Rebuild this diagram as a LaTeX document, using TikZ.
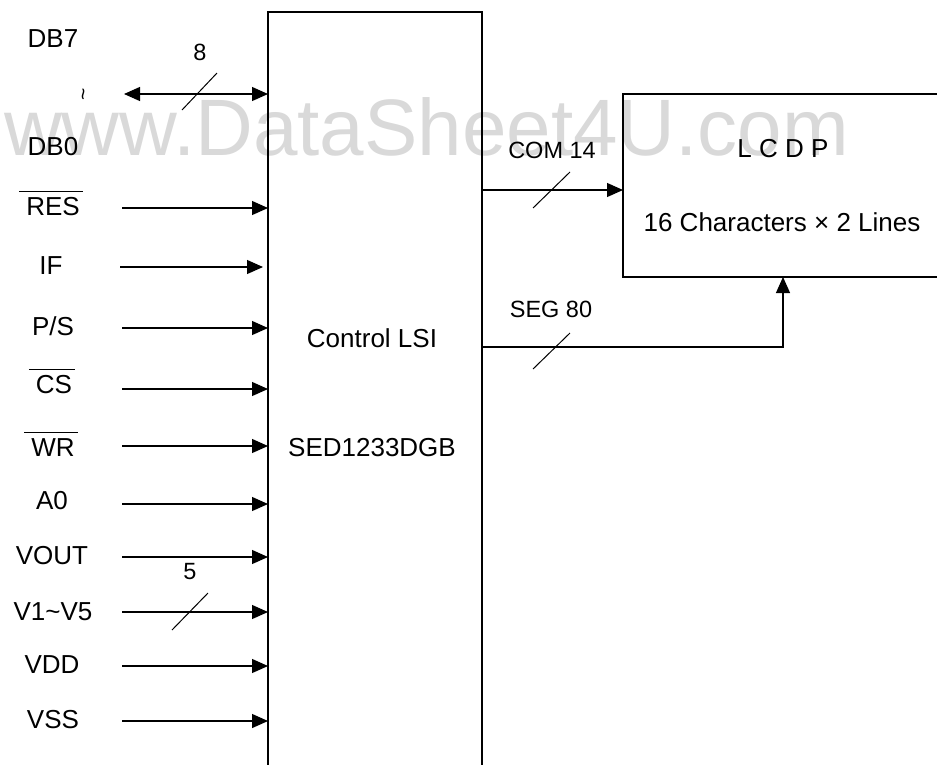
\documentclass[tikz,border=0pt]{standalone}
\usepackage{fontspec}
\setmainfont{Liberation Sans}
\usetikzlibrary{arrows.meta}
\newcommand\ovlbar[1]{\vbox{\hrule height 1.2pt\kern 5pt\hbox{\kern 7pt #1\kern 3pt}}}
\tikzset{
  lbl/.style={font=\fontsize{26}{30}\selectfont, anchor=base, inner sep=0pt},
  smlbl/.style={font=\fontsize{23.5}{28}\selectfont, anchor=base, inner sep=0pt},
  blockbox/.style={draw, line width=2.2pt, rectangle, inner sep=0pt, outer sep=0pt, anchor=north west},
  conn/.style={line width=1.2pt, -{Triangle[length=16pt,width=14pt]}},
  biconn/.style={line width=1.2pt, {Triangle[length=16pt,width=14pt]}-{Triangle[length=16pt,width=14pt]}},
  busslash/.style={line width=1pt},
  wmark/.style={font=\fontsize{80}{90}\selectfont, text=black!15, anchor=base west, inner sep=0pt}
}
\begin{document}
\begin{tikzpicture}[x=1pt,y=-1pt]
\useasboundingbox (0,0) rectangle (937,764);
\clip (0,0) rectangle (937,764);
% watermark
\node[wmark] (wm) at (4,155) {www.DataSheet4U.com};
% blocks
\node[blockbox, minimum width=214pt, minimum height=780pt] (lsi) at (268,12) {};
\node[blockbox, minimum width=340pt, minimum height=183pt] (lcd) at (623,94) {};
\node[lbl] (ctl) at (372,347) {Control LSI};
\node[lbl] (sed) at (372,456) {SED1233DGB};
\node[lbl] (lcdp) at (783,157) {L C D P};
\node[lbl] (chars) at (782,231) {16 Characters × 2 Lines};
% left labels
\node[lbl] (db7) at (53,47) {DB7};
\node[lbl] (db0) at (53,155) {DB0};
\node[font=\fontsize{21}{21}\selectfont, rotate=90, inner sep=0pt] (til) at (86,94) {\textasciitilde};
\node[lbl] (res) at (51,215) {\ovlbar{RES}};
\node[lbl] (if) at (51,274) {IF};
\node[lbl] (ps) at (53,335) {P/S};
\node[lbl] (cs) at (52,393) {\ovlbar{CS}};
\node[lbl] (wr) at (51,456) {\ovlbar{WR}};
\node[lbl] (a0) at (52,509) {A0};
\node[lbl] (vout) at (52,564) {VOUT};
\node[lbl] (v15) at (53,620) {V1\textasciitilde V5};
\node[lbl] (vdd) at (52,673) {VDD};
\node[lbl] (vss) at (53,728) {VSS};
\node[smlbl] (n8) at (200,60) {8};
\node[smlbl] (n5) at (190,579) {5};
\node[smlbl] (com) at (552,158) {COM 14};
\node[smlbl] (seg) at (551,317) {SEG 80};
% arrow starts
\coordinate (sdb) at (124,94);
\coordinate (sres) at (122,208);
\coordinate (sif) at (120,267);
\coordinate (eif) at (263,267);
\coordinate (sps) at (122,328);
\coordinate (scs) at (122,389);
\coordinate (swr) at (122,446);
\coordinate (sa0) at (122,504);
\coordinate (svout) at (122,557);
\coordinate (sv15) at (122,612);
\coordinate (svdd) at (122,666);
\coordinate (svss) at (122,721);
\coordinate (scom) at (482,190);
\coordinate (sseg) at (482,347);
\coordinate (segturn) at (783,347);
% connectors
\draw[biconn] (sdb) -- (sdb -| lsi.west);
\draw[conn] (sres) -- (sres -| lsi.west);
\draw[conn] (sif) -- (eif);
\draw[conn] (sps) -- (sps -| lsi.west);
\draw[conn] (scs) -- (scs -| lsi.west);
\draw[conn] (swr) -- (swr -| lsi.west);
\draw[conn] (sa0) -- (sa0 -| lsi.west);
\draw[conn] (svout) -- (svout -| lsi.west);
\draw[conn] (sv15) -- (sv15 -| lsi.west);
\draw[conn] (svdd) -- (svdd -| lsi.west);
\draw[conn] (svss) -- (svss -| lsi.west);
\draw[conn] (scom) -- (scom -| lcd.west);
\draw[conn] (sseg) -- (segturn) -- (segturn |- lcd.south);
% bus slashes
\draw[busslash] (182,110) -- (217,73);
\draw[busslash] (172,630) -- (208,593);
\draw[busslash] (533,208) -- (570,172);
\draw[busslash] (533,369) -- (570,333);
\end{tikzpicture}
\end{document}
